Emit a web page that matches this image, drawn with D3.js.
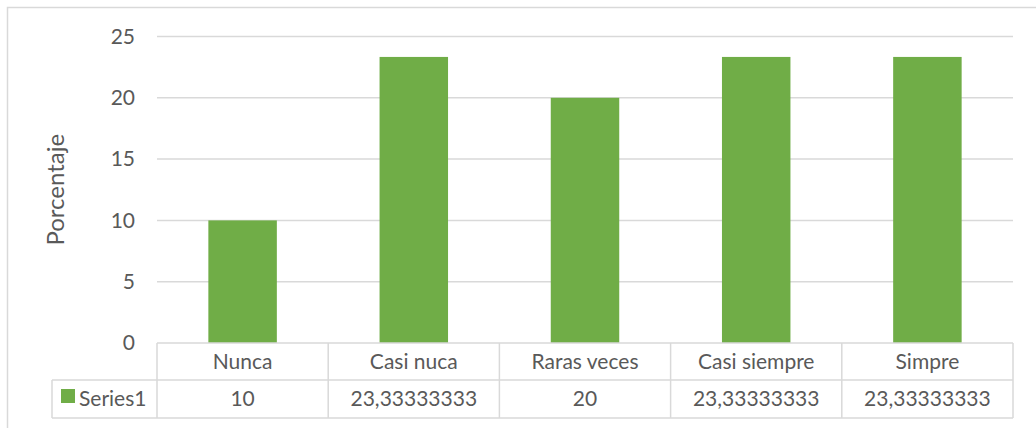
<!DOCTYPE html>
<html>
<head>
<meta charset="utf-8">
<script src="https://cdn.jsdelivr.net/npm/d3@7"></script>
<style>
  html, body { margin: 0; padding: 0; background: #fff; }
  svg { display: block; }
  text { font-family: Lato, "Open Sans", sans-serif; fill: #595959; }
</style>
</head>
<body>
<div id="chart"></div>
<script>
// chart data
const categories = ['Nunca', 'Casi nuca', 'Raras veces', 'Casi siempre', 'Simpre'];
const values = [10, 23.33333333, 20, 23.33333333, 23.33333333];
const seriesName = 'Series1';
const yTicks = [0, 5, 10, 15, 20, 25];
const yTitle = 'Porcentaje';

const width = 1036, height = 428;
const plotLeft = 157, plotRight = 1013, plotTop = 36.5, plotBottom = 343;
const row1Bottom = 380, row2Bottom = 418;
const legendLeft = 52;
const green = '#70ad47', lineColor = '#d9d9d9';

// comma as decimal mark, like the source sheet
const esLocale = d3.formatLocale({ decimal: ',', thousands: '.', grouping: [3], currency: ['', ''] });
const fmtValue = v => Number.isInteger(v) ? String(v) : esLocale.format('.8f')(v);

const svg = d3.select('#chart').append('svg')
    .attr('width', width)
    .attr('height', height);

// outer chart border (runs off the right and bottom of the picture)
svg.append('rect')
    .attr('x', 7.5).attr('y', 7.5)
    .attr('width', width + 10).attr('height', height + 10)
    .attr('fill', 'none')
    .attr('stroke', lineColor).attr('stroke-width', 1.5);

const x = d3.scaleBand()
    .domain(categories)
    .range([plotLeft, plotRight])
    .paddingInner(0.6)
    .paddingOuter(0.3);

const xCell = d3.scaleBand()
    .domain(categories)
    .range([plotLeft, plotRight]);

const y = d3.scaleLinear()
    .domain([0, 25])
    .range([plotBottom, plotTop]);

// gridlines
svg.append('g').selectAll('line')
    .data(yTicks.filter(t => t > 0))
    .join('line')
    .attr('x1', plotLeft).attr('x2', plotRight)
    .attr('y1', d => y(d)).attr('y2', d => y(d))
    .attr('stroke', lineColor).attr('stroke-width', 1.5);

// y tick labels
svg.append('g').selectAll('text')
    .data(yTicks)
    .join('text')
    .attr('x', 135)
    .attr('y', d => y(d))
    .attr('dy', '0.35em')
    .attr('text-anchor', 'end')
    .attr('font-size', 21)
    .text(d => d);

// y title
svg.append('text')
    .attr('transform', `translate(64,${(plotTop + plotBottom) / 2}) rotate(-90)`)
    .attr('text-anchor', 'middle')
    .attr('font-size', 24)
    .text(yTitle);

// bars
svg.append('g').selectAll('rect')
    .data(values)
    .join('rect')
    .attr('x', (d, i) => x(categories[i]))
    .attr('width', x.bandwidth())
    .attr('y', d => y(d))
    .attr('height', d => y(0) - y(d))
    .attr('fill', green);

// data table
const table = svg.append('g')
    .attr('stroke', lineColor).attr('stroke-width', 1.5);

table.append('line')
    .attr('x1', plotLeft).attr('x2', plotRight)
    .attr('y1', plotBottom).attr('y2', plotBottom);
table.append('line')
    .attr('x1', legendLeft).attr('x2', plotRight)
    .attr('y1', row1Bottom).attr('y2', row1Bottom);
table.append('line')
    .attr('x1', legendLeft).attr('x2', plotRight)
    .attr('y1', row2Bottom).attr('y2', row2Bottom);
table.append('line')
    .attr('x1', legendLeft).attr('x2', legendLeft)
    .attr('y1', row1Bottom).attr('y2', row2Bottom);
table.selectAll('line.sep')
    .data(categories.concat(['end']))
    .join('line')
    .attr('class', 'sep')
    .attr('x1', (d, i) => plotLeft + i * xCell.step())
    .attr('x2', (d, i) => plotLeft + i * xCell.step())
    .attr('y1', plotBottom).attr('y2', row2Bottom);

// category labels
svg.append('g').selectAll('text')
    .data(categories)
    .join('text')
    .attr('x', d => xCell(d) + xCell.bandwidth() / 2)
    .attr('y', (plotBottom + row1Bottom) / 2)
    .attr('dy', '0.35em')
    .attr('text-anchor', 'middle')
    .attr('font-size', 21)
    .text(d => d);

// value row
svg.append('g').selectAll('text')
    .data(values)
    .join('text')
    .attr('x', (d, i) => xCell(categories[i]) + xCell.bandwidth() / 2)
    .attr('y', (row1Bottom + row2Bottom) / 2)
    .attr('dy', '0.35em')
    .attr('text-anchor', 'middle')
    .attr('font-size', 21)
    .text(d => fmtValue(d));

// legend key in table
svg.append('rect')
    .attr('x', 61).attr('y', 389)
    .attr('width', 14).attr('height', 14)
    .attr('fill', green);
svg.append('text')
    .attr('x', 79)
    .attr('y', (row1Bottom + row2Bottom) / 2)
    .attr('dy', '0.35em')
    .attr('font-size', 21)
    .text(seriesName);
</script>
</body>
</html>
